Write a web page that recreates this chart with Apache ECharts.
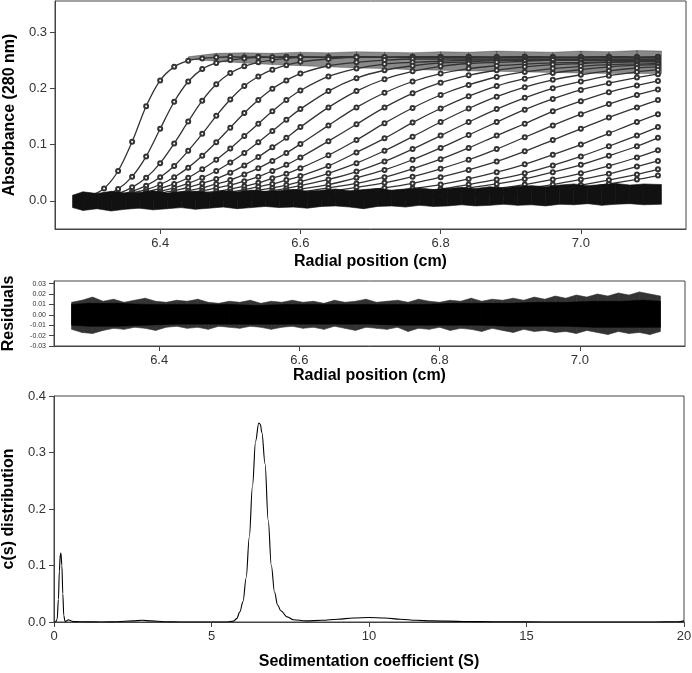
<!DOCTYPE html>
<html>
<head>
<meta charset="utf-8">
<script src="https://cdn.jsdelivr.net/npm/echarts@6/dist/echarts.min.js"></script>
<style>
html,body{margin:0;padding:0;background:#fff;}
#chart{width:692px;height:673px;}
</style>
</head>
<body>
<div id="chart"></div>
<script>
// ---------- Panel A: absorbance scans ----------
const radialGrid = [6.28,6.30,6.32,6.34,6.36,6.38,6.40,6.42,6.44,6.46,6.48,6.50,6.52,6.54,6.56,6.58,6.60,6.64,6.68,6.72,6.76,6.80,6.84,6.88,6.92,6.96,7.00,7.04,7.08,7.11];
const scans = [
 [0.003,0.009,0.022,0.053,0.105,0.168,0.214,0.238,0.249,0.253, 0.255,0.256,0.255,0.256,0.255,0.255,0.256,0.255,0.256,0.255, 0.256,0.255,0.256,0.255,0.256,0.255,0.255,0.256,0.255,0.256],
 [0.002,0.005,0.010,0.021,0.043,0.079,0.128,0.176,0.212,0.234, 0.245,0.250,0.253,0.255,0.255,0.256,0.255,0.255,0.256,0.255, 0.255,0.256,0.255,0.255,0.256,0.255,0.255,0.256,0.255,0.255],
 [0.002,0.004,0.007,0.013,0.024,0.041,0.067,0.102,0.141,0.178, 0.207,0.227,0.239,0.246,0.250,0.253,0.255,0.255,0.255,0.255, 0.255,0.255,0.255,0.255,0.255,0.255,0.255,0.255,0.255,0.255],
 [0.002,0.004,0.007,0.011,0.017,0.027,0.042,0.062,0.089,0.119, 0.151,0.180,0.204,0.221,0.233,0.241,0.247,0.252,0.255,0.255, 0.255,0.255,0.255,0.255,0.255,0.255,0.255,0.255,0.255,0.255],
 [0.003,0.004,0.006,0.009,0.014,0.020,0.029,0.042,0.059,0.080, 0.104,0.130,0.156,0.179,0.199,0.214,0.226,0.240,0.246,0.250, 0.252,0.252,0.252,0.252,0.252,0.252,0.252,0.252,0.252,0.252],
 [0.003,0.004,0.005,0.008,0.011,0.016,0.022,0.030,0.041,0.056, 0.073,0.093,0.115,0.137,0.159,0.179,0.196,0.221,0.235,0.243, 0.246,0.248,0.250,0.250,0.250,0.250,0.250,0.250,0.250,0.250],
 [0.003,0.004,0.005,0.007,0.009,0.013,0.017,0.023,0.031,0.041, 0.053,0.068,0.085,0.104,0.124,0.144,0.163,0.195,0.218,0.232, 0.240,0.245,0.247,0.249,0.250,0.250,0.250,0.250,0.250,0.250],
 [0.002,0.003,0.004,0.006,0.008,0.010,0.014,0.018,0.024,0.031, 0.039,0.050,0.063,0.078,0.095,0.112,0.131,0.166,0.195,0.216, 0.230,0.239,0.244,0.246,0.248,0.250,0.250,0.250,0.250,0.250],
 [0.002,0.003,0.004,0.005,0.006,0.008,0.011,0.014,0.018,0.023, 0.030,0.037,0.047,0.058,0.071,0.085,0.101,0.134,0.166,0.192, 0.212,0.226,0.235,0.240,0.243,0.245,0.246,0.247,0.248,0.248],
 [0.002,0.003,0.003,0.004,0.005,0.007,0.009,0.011,0.014,0.018, 0.023,0.028,0.035,0.043,0.053,0.064,0.077,0.106,0.136,0.166, 0.191,0.210,0.223,0.232,0.238,0.242,0.244,0.246,0.247,0.247],
 [0.002,0.002,0.003,0.004,0.004,0.006,0.007,0.009,0.011,0.014, 0.017,0.021,0.026,0.032,0.040,0.048,0.058,0.081,0.108,0.138, 0.165,0.188,0.206,0.220,0.229,0.235,0.239,0.242,0.243,0.244],
 [0.002,0.002,0.002,0.003,0.004,0.005,0.006,0.007,0.009,0.011, 0.013,0.016,0.020,0.025,0.030,0.037,0.044,0.062,0.086,0.111, 0.139,0.164,0.186,0.204,0.217,0.227,0.233,0.238,0.241,0.242],
 [0.001,0.002,0.002,0.003,0.003,0.004,0.005,0.006,0.007,0.009, 0.011,0.013,0.016,0.019,0.023,0.028,0.034,0.049,0.067,0.089, 0.114,0.140,0.164,0.185,0.202,0.215,0.224,0.231,0.236,0.238],
 [0.001,0.001,0.002,0.002,0.003,0.003,0.004,0.005,0.006,0.007, 0.009,0.011,0.013,0.015,0.018,0.022,0.027,0.038,0.052,0.070, 0.092,0.116,0.140,0.163,0.183,0.200,0.212,0.222,0.229,0.233],
 [0.001,0.001,0.002,0.002,0.002,0.003,0.003,0.004,0.005,0.006, 0.007,0.009,0.010,0.012,0.015,0.018,0.021,0.029,0.041,0.055, 0.073,0.094,0.117,0.140,0.162,0.181,0.197,0.209,0.219,0.225],
 [0.001,0.001,0.001,0.002,0.002,0.002,0.003,0.003,0.004,0.005, 0.006,0.007,0.008,0.010,0.011,0.014,0.016,0.023,0.031,0.042, 0.057,0.074,0.094,0.116,0.137,0.159,0.177,0.193,0.205,0.213],
 [0.001,0.001,0.001,0.002,0.002,0.002,0.002,0.003,0.003,0.004, 0.005,0.005,0.006,0.008,0.009,0.011,0.013,0.017,0.024,0.032, 0.043,0.057,0.073,0.092,0.113,0.134,0.154,0.172,0.188,0.198],
 [0.001,0.001,0.001,0.001,0.001,0.002,0.002,0.002,0.003,0.003, 0.003,0.004,0.005,0.005,0.006,0.008,0.009,0.012,0.017,0.023, 0.031,0.042,0.055,0.070,0.088,0.108,0.128,0.148,0.166,0.179],
 [0.001,0.001,0.001,0.001,0.001,0.001,0.001,0.001,0.002,0.002, 0.002,0.003,0.003,0.004,0.005,0.005,0.006,0.008,0.012,0.016, 0.022,0.029,0.039,0.051,0.065,0.082,0.100,0.120,0.140,0.154],
 [0.001,0.001,0.001,0.001,0.001,0.001,0.001,0.001,0.001,0.001, 0.002,0.002,0.002,0.003,0.003,0.004,0.005,0.006,0.009,0.012, 0.016,0.021,0.029,0.038,0.049,0.063,0.079,0.097,0.116,0.131],
 [0.001,0.001,0.001,0.001,0.001,0.001,0.001,0.001,0.001,0.001, 0.001,0.001,0.002,0.002,0.002,0.003,0.004,0.005,0.007,0.009, 0.012,0.017,0.023,0.030,0.039,0.051,0.064,0.080,0.097,0.112],
 [0.001,0.001,0.001,0.001,0.001,0.001,0.001,0.001,0.001,0.001, 0.001,0.001,0.001,0.001,0.002,0.002,0.003,0.004,0.005,0.007, 0.009,0.012,0.017,0.022,0.029,0.038,0.049,0.062,0.077,0.090],
 [0.001,0.001,0.001,0.001,0.001,0.001,0.001,0.001,0.001,0.001, 0.001,0.001,0.001,0.001,0.001,0.001,0.002,0.003,0.004,0.005, 0.007,0.010,0.013,0.017,0.022,0.029,0.038,0.048,0.061,0.071],
 [0.001,0.001,0.001,0.001,0.001,0.001,0.001,0.001,0.001,0.001, 0.001,0.001,0.001,0.001,0.001,0.001,0.001,0.002,0.003,0.004, 0.005,0.007,0.010,0.013,0.017,0.022,0.028,0.037,0.047,0.056],
 [0.001,0.001,0.001,0.001,0.001,0.001,0.001,0.001,0.001,0.001, 0.001,0.001,0.001,0.001,0.001,0.001,0.001,0.001,0.002,0.003, 0.005,0.006,0.008,0.010,0.014,0.017,0.023,0.030,0.038,0.045]
];
// dense baseline band of the scans (envelope)
const baseX  = [6.275,6.29,6.31,6.33,6.35,6.37,6.39,6.41,6.43,6.45, 6.47,6.49,6.51,6.53,6.55,6.57,6.59,6.61,6.63,6.65, 6.67,6.69,6.71,6.73,6.75,6.77,6.79,6.81,6.83,6.85, 6.87,6.89,6.91,6.93,6.95,6.97,6.99,7.01,7.03,7.05, 7.07,7.09,7.115];
const baseHi = [0.010,0.016,0.013,0.017,0.014,0.015,0.018,0.014,0.016,0.017, 0.015,0.018,0.016,0.019,0.017,0.018,0.020,0.017,0.019,0.021, 0.018,0.020,0.022,0.019,0.021,0.023,0.020,0.022,0.024,0.022, 0.025,0.023,0.026,0.027,0.025,0.028,0.030,0.027,0.029,0.031, 0.028,0.030,0.029];
const baseLo = [-0.012,-0.017,-0.014,-0.018,-0.015,-0.013,-0.016,-0.014,-0.012,-0.015, -0.013,-0.011,-0.014,-0.012,-0.010,-0.012,-0.011,-0.013,-0.010,-0.009, -0.011,-0.014,-0.010,-0.009,-0.011,-0.008,-0.010,-0.009,-0.007,-0.009, -0.008,-0.006,-0.008,-0.007,-0.009,-0.006,-0.007,-0.005,-0.008,-0.006, -0.005,-0.007,-0.006];
// dense plateau scatter of the later scans
const plateauX  = [6.44,6.48,6.52,6.56,6.60,6.64,6.68,6.72,6.76,6.80,6.84,6.88,6.92,6.96,7.00,7.04,7.08,7.115];
const plateauHi = [0.256,0.262,0.263,0.262,0.264,0.263,0.265,0.264,0.263,0.265,0.264,0.266,0.265,0.264,0.266,0.265,0.267,0.266];
const plateauLo = [0.252,0.248,0.245,0.242,0.240,0.238,0.236,0.235,0.233,0.232,0.231,0.230,0.229,0.228,0.227,0.226,0.226,0.226];

// ---------- Panel B: residuals (envelopes) ----------
const resX = [6.275,6.29,6.305,6.32,6.335,6.35,6.365,6.38,6.395,6.41, 6.425,6.44,6.455,6.47,6.485,6.5,6.515,6.53,6.545,6.56, 6.575,6.59,6.605,6.62,6.635,6.65,6.665,6.68,6.695,6.71, 6.725,6.74,6.755,6.77,6.785,6.8,6.815,6.83,6.845,6.86, 6.875,6.89,6.905,6.92,6.935,6.95,6.965,6.98,6.995,7.01, 7.025,7.04,7.055,7.07,7.085,7.1,7.115];
const resHi = [0.012,0.014,0.017,0.013,0.015,0.012,0.014,0.016,0.013,0.012, 0.014,0.013,0.015,0.012,0.011,0.013,0.012,0.014,0.011,0.013, 0.012,0.014,0.012,0.013,0.011,0.014,0.012,0.013,0.015,0.012, 0.013,0.014,0.012,0.015,0.013,0.012,0.014,0.013,0.016,0.013, 0.015,0.014,0.016,0.014,0.017,0.015,0.018,0.016,0.019,0.017, 0.020,0.018,0.021,0.019,0.022,0.020,0.018];
const resLo = [-0.014,-0.017,-0.018,-0.015,-0.013,-0.014,-0.012,-0.013,-0.015,-0.012, -0.011,-0.013,-0.012,-0.014,-0.011,-0.012,-0.013,-0.011,-0.012,-0.014, -0.012,-0.011,-0.013,-0.012,-0.014,-0.011,-0.013,-0.015,-0.012,-0.013, -0.014,-0.012,-0.016,-0.013,-0.014,-0.012,-0.015,-0.013,-0.014,-0.016, -0.013,-0.015,-0.017,-0.014,-0.016,-0.015,-0.017,-0.016,-0.018,-0.015, -0.017,-0.019,-0.016,-0.018,-0.017,-0.019,-0.016];
const coreX = [6.275,6.30,6.34,6.38,6.42,6.46,6.50,6.54,6.58,6.62,6.66,6.70,6.74,6.78,6.82,6.86,6.90,6.94,6.98,7.02,7.06,7.09,7.115];
const resCoreHi = [0.010,0.011,0.011,0.010,0.010,0.010,0.010,0.009,0.010,0.010,0.010,0.010,0.010,0.010,0.011,0.011,0.011,0.012,0.012,0.013,0.013,0.014,0.013];
const resCoreLo = [-0.010,-0.011,-0.011,-0.010,-0.009,-0.009,-0.009,-0.009,-0.009,-0.009,-0.009,-0.009,-0.010,-0.010,-0.010,-0.010,-0.011,-0.011,-0.011,-0.012,-0.012,-0.012,-0.012];

// ---------- Panel C: c(s) distribution ----------
const sedS = [0,0.05,0.10,0.14,0.17,0.20,0.22,0.25,0.28,0.31, 0.35,0.40,0.45,0.50,0.60,0.80,1.0,1.5,2.0,2.5, 2.8,3.1,3.5,4.0,5.0,5.5,5.7,5.8,5.9,6.0, 6.1,6.2,6.3,6.4,6.5,6.55,6.6,6.7,6.8,6.9, 7.0,7.1,7.2,7.4,7.6,8.0,8.5,9.0,9.5,10.0, 10.5,11.0,11.5,12.0,13.0,14.0,15.0,16.0,17.0,18.0, 19.0,19.8,20.0];
const csVal = [0,0,0.005,0.04,0.09,0.12,0.122,0.10,0.05,0.012, 0.001,0.002,0.004,0.003,0.001,0.0005,0.0003,0,0.0005,0.002, 0.003,0.002,0.0005,0,0,0,0.0015,0.006,0.018,0.036, 0.078,0.15,0.24,0.32,0.352,0.35,0.335,0.28,0.18,0.10, 0.053,0.03,0.02,0.009,0.004,0.002,0.003,0.005,0.007,0.008, 0.007,0.005,0.003,0.002,0.001,0.0005,0.0002,0,0,0, 0,0.0005,0.002];

const radialTicks = [6.4,6.6,6.8,7.0];
const absTicks = [0.0,0.1,0.2,0.3];
const resTicks = [-0.03,-0.02,-0.01,0.00,0.01,0.02,0.03];

const FONT = 'Arial, "Liberation Sans", Helvetica, sans-serif';
const AX = '#444';

function bandSeries(xs, lo, hi, xi, color, z) {
  const data = [];
  for (let i = 0; i < xs.length - 1; i++) data.push([xs[i], lo[i], hi[i], xs[i+1], lo[i+1], hi[i+1]]);
  return {
    type: 'custom', xAxisIndex: xi, yAxisIndex: xi, data: data, z: z, silent: true, clip: true,
    encode: { x: [0, 3], y: [1, 2, 4, 5] },
    renderItem: function (params, api) {
      const a = api.coord([api.value(0), api.value(2)]);
      const b = api.coord([api.value(3), api.value(5)]);
      const c = api.coord([api.value(3), api.value(4)]);
      const d = api.coord([api.value(0), api.value(1)]);
      return { type: 'polygon', shape: { points: [a, b, c, d] }, style: { fill: color, stroke: color, lineWidth: 0.6 } };
    }
  };
}

function xAxisCfg(idx, min, max, ticks, name, fmt, gap) {
  return {
    type: 'value', gridIndex: idx, min: min, max: max,
    name: name, nameLocation: 'middle', nameGap: gap,
    nameTextStyle: { fontFamily: FONT, fontWeight: 'bold', fontSize: 16, color: '#000' },
    axisLine: { onZero: false, lineStyle: { color: AX, width: 1 } },
    axisTick: { show: true, length: 5, lineStyle: { color: AX }, customValues: ticks },
    axisLabel: { fontFamily: FONT, fontSize: 13, color: '#333', margin: 8, customValues: ticks, formatter: fmt },
    splitLine: { show: false }
  };
}
function yAxisCfg(idx, min, max, ticks, name, fmt, gap, fs) {
  return {
    type: 'value', gridIndex: idx, min: min, max: max,
    name: name, nameLocation: 'middle', nameGap: gap, nameRotate: 90,
    nameTextStyle: { fontFamily: FONT, fontWeight: 'bold', fontSize: 16, color: '#000' },
    axisLine: { onZero: false, lineStyle: { color: AX, width: 1 } },
    axisTick: { show: true, length: 5, lineStyle: { color: AX }, customValues: ticks },
    axisLabel: { fontFamily: FONT, fontSize: fs, color: '#333', margin: 8, customValues: ticks, formatter: fmt },
    splitLine: { show: false }
  };
}

const series = [];
series.push(bandSeries(baseX, baseLo, baseHi, 0, '#111', 3));
series.push(bandSeries(plateauX, plateauLo, plateauHi, 0, 'rgba(20,20,20,0.5)', 1));
scans.forEach(function (sc) {
  series.push({
    type: 'line', xAxisIndex: 0, yAxisIndex: 0, silent: true, z: 2,
    data: radialGrid.map(function (x, i) { return [x, sc[i]]; }),
    smooth: 0.3, symbol: 'emptyCircle', symbolSize: 4, showSymbol: true,
    itemStyle: { color: '#333', borderWidth: 0.8 },
    lineStyle: { color: '#333', width: 1.3 }
  });
});
series.push(bandSeries(resX, resLo, resHi, 1, '#333', 2));
series.push(bandSeries(coreX, resCoreLo, resCoreHi, 1, '#000', 3));
series.push({
  type: 'line', xAxisIndex: 2, yAxisIndex: 2, silent: true,
  data: sedS.map(function (s, i) { return [s, csVal[i]]; }),
  smooth: 0.35, smoothMonotone: 'x', showSymbol: false,
  lineStyle: { color: '#000', width: 1.1 }
});

const chart = echarts.init(document.getElementById('chart'), null, { renderer: 'canvas' });
chart.setOption({
  animation: false,
  backgroundColor: '#fff',
  grid: [
    { left: 55, top: 1, width: 631, height: 228, show: true, borderColor: AX, borderWidth: 1, containLabel: false, outerBoundsMode: 'none' },
    { left: 54, top: 281, width: 631, height: 65, show: true, borderColor: AX, borderWidth: 1, containLabel: false, outerBoundsMode: 'none' },
    { left: 54, top: 396, width: 630, height: 226, show: true, borderColor: AX, borderWidth: 1, containLabel: false, outerBoundsMode: 'none' }
  ],
  xAxis: [
    xAxisCfg(0, 6.25, 7.15, radialTicks, 'Radial position (cm)', function (v) { return v.toFixed(1); }, 25),
    xAxisCfg(1, 6.25, 7.15, radialTicks, 'Radial position (cm)', function (v) { return v.toFixed(1); }, 22),
    Object.assign(xAxisCfg(2, 0, 20, null, 'Sedimentation coefficient (S)', function (v) { return String(v); }, 32), {
      interval: 5,
      axisTick: { show: true, length: 5, lineStyle: { color: AX } },
      axisLabel: { fontFamily: FONT, fontSize: 13, color: '#333', margin: 8 }
    })
  ],
  yAxis: [
    yAxisCfg(0, -0.05, 0.355, absTicks, 'Absorbance (280 nm)', function (v) { return v.toFixed(1); }, 37, 13),
    yAxisCfg(1, -0.03, 0.0325, resTicks, 'Residuals', function (v) { return v.toFixed(2); }, 37, 7),
    Object.assign(yAxisCfg(2, 0, 0.4, null, 'c(s) distribution', function (v) { return v.toFixed(1); }, 37, 13), {
      interval: 0.1,
      axisTick: { show: true, length: 5, lineStyle: { color: AX } },
      axisLabel: { fontFamily: FONT, fontSize: 13, color: '#333', margin: 8, formatter: function (v) { return v.toFixed(1); } }
    })
  ],
  series: series
});
</script>
</body>
</html>
